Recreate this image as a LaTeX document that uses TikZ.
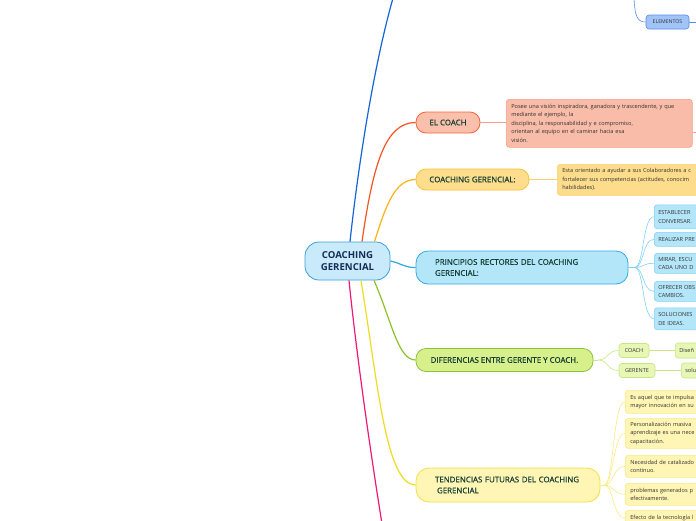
\documentclass[tikz,border=0pt]{standalone}
\usepackage{fontspec}
\setmainfont{Open Sans}
\newfontfamily\semib[FakeBold=0.6]{Open Sans}
\definecolor{tcol}{RGB}{22,62,52}
\definecolor{ctext}{RGB}{20,45,85}
\definecolor{sgray}{RGB}{50,50,50}
\definecolor{lblue}{RGB}{20,100,215}
\definecolor{lred}{RGB}{245,85,35}
\definecolor{lorange}{RGB}{250,180,20}
\definecolor{lsky}{RGB}{45,170,225}
\definecolor{lgreen}{RGB}{140,195,40}
\definecolor{lyellow}{RGB}{240,220,30}
\definecolor{lpink}{RGB}{240,25,120}
\definecolor{cfill}{RGB}{200,234,250}
\definecolor{cdraw}{RGB}{60,160,220}
\definecolor{rfill}{RGB}{250,192,172}
\definecolor{rdraw}{RGB}{245,100,60}
\definecolor{rdfill}{RGB}{248,188,168}
\definecolor{rddraw}{RGB}{242,160,140}
\definecolor{ofill}{RGB}{254,222,140}
\definecolor{odraw}{RGB}{250,195,60}
\definecolor{odfill}{RGB}{253,220,140}
\definecolor{oddraw}{RGB}{252,208,110}
\definecolor{sfill}{RGB}{180,230,250}
\definecolor{sdraw}{RGB}{50,170,225}
\definecolor{scdraw}{RGB}{130,210,245}
\definecolor{gfill}{RGB}{215,240,140}
\definecolor{gdraw}{RGB}{140,195,60}
\definecolor{gcfill}{RGB}{232,247,182}
\definecolor{gcdraw}{RGB}{200,230,130}
\definecolor{yfill}{RGB}{255,245,180}
\definecolor{ydraw}{RGB}{240,225,70}
\definecolor{ycdraw}{RGB}{250,235,130}
\definecolor{efill}{RGB}{160,196,248}
\definecolor{edraw}{RGB}{90,140,230}
\begin{document}
\begin{tikzpicture}[x=1pt,y=-1pt,
  every node/.style={font=\semib\fontsize{7.9}{11}\selectfont, text=tcol, inner sep=0pt},
  pill/.style={draw, line width=0.8pt, rounded corners=10pt},
  small/.style={draw, line width=0.6pt, rounded corners=3pt, font=\fontsize{5.6}{8.5}\selectfont, text=sgray, align=left, inner xsep=4pt, inner ysep=2pt, anchor=north west},
  mainline/.style={line width=1.2pt},
  thin/.style={line width=0.6pt}]
\path[use as bounding box] (0,0) rectangle (696,520);
\clip (0,0) rectangle (696,520);
\fill[white] (0,0) rectangle (696,520);

% central node
\node[pill, rounded corners=14pt, fill=cfill, draw=cdraw, minimum width=85pt, minimum height=38pt,
  font=\bfseries\fontsize{9.6}{12}\selectfont, text=ctext, align=center] (c) at (347.5,261) {COACHING\\GERENCIAL};

% main branch nodes
\node[pill, fill=rfill, draw=rdraw, minimum width=64pt, minimum height=21pt] (coach) at (448,122.5) {EL COACH};
\node[pill, fill=ofill, draw=odraw, minimum width=113pt, minimum height=21pt] (cg) at (472.5,179.5) {COACHING GERENCIAL:};
\node[pill, rounded corners=12pt, fill=sfill, draw=sdraw, minimum width=212pt, minimum height=33pt,
  text width=174pt, inner xsep=19pt, align=left] (pr) at (522,267.5) {PRINCIPIOS RECTORES DEL COACHING\\GERENCIAL:};
\node[pill, fill=gfill, draw=gdraw, minimum width=177pt, minimum height=23pt] (dif) at (504.5,360) {DIFERENCIAS ENTRE GERENTE Y COACH.};
\node[pill, rounded corners=13pt, fill=yfill, draw=ydraw, minimum width=184pt, minimum height=34pt,
  text width=146pt, inner xsep=19pt, align=left] (ten) at (508,485) {TENDENCIAS FUTURAS DEL COACHING\\\hspace*{2pt}GERENCIAL};

% ELEMENTOS
\node[draw=edraw, fill=efill, line width=0.6pt, rounded corners=3pt, minimum width=43pt, minimum height=14pt,
  font=\fontsize{5.2}{6}\selectfont, text=sgray] (el) at (667.5,22) {ELEMENTOS};

% descriptions
\node[small, fill=rdfill, draw=rddraw, text width=176pt, minimum height=48pt, inner xsep=5pt] (cd) at (506,99)
 {Posee una visión inspiradora, ganadora y trascendente, y que\\mediante el ejemplo, la\\disciplina, la responsabilidad y e compromiso,\\orientan al equipo en el caminar hacia esa\\visión.};
\node[small, fill=odfill, draw=oddraw, text width=170pt, minimum height=31pt, inner xsep=5pt] (cgd) at (557,164)
 {Esta orientado a ayudar a sus Colaboradores a c\\fortalecer sus competencias (actitudes, conocim\\habilidades).};

% principios children
\node[small, fill=sfill, draw=scdraw, text width=60pt, minimum height=24pt] (p1) at (654,204.5) {ESTABLECER\\CONVERSAR.};
\node[small, fill=sfill, draw=scdraw, text width=60pt, minimum height=14pt] (p2) at (654,232) {REALIZAR PRE};
\node[small, fill=sfill, draw=scdraw, text width=60pt, minimum height=20pt] (p3) at (654,253) {MIRAR, ESCU\\CADA UNO D};
\node[small, fill=sfill, draw=scdraw, text width=60pt, minimum height=20pt] (p4) at (654,281) {OFRECER OBS\\CAMBIOS.};
\node[small, fill=sfill, draw=scdraw, text width=60pt, minimum height=22pt] (p5) at (654,307.5) {SOLUCIONES\\DE IDEAS.};

% diferencias children
\node[draw=gcdraw, fill=gcfill, line width=0.6pt, rounded corners=3pt, minimum width=30pt, minimum height=14pt,
  font=\fontsize{5.5}{6}\selectfont, text=sgray] (dc) at (634,350.5) {COACH};
\node[draw=gcdraw, fill=gcfill, line width=0.6pt, rounded corners=3pt, minimum width=36pt, minimum height=14pt,
  font=\fontsize{5.5}{6}\selectfont, text=sgray] (dg) at (637,370.5) {GERENTE};
\node[small, anchor=west, fill=gcfill, draw=gcdraw, text width=40pt, minimum height=15pt] (dc2) at (675,350.5) {Diseñ};
\node[small, anchor=west, fill=gcfill, draw=gcdraw, text width=40pt, minimum height=15pt] (dg2) at (681,370.5) {solu};

% tendencias children
\node[small, fill=yfill, draw=ycdraw, text width=90pt, minimum height=23pt, inner xsep=5pt] (t1) at (625,390) {Es aquel que te impulsa\\mayor innovación en su};
\node[small, fill=yfill, draw=ycdraw, text width=90pt, minimum height=30pt, inner xsep=5pt] (t2) at (625,418) {Personalización masiva\\aprendizaje es una nece\\capacitación.};
\node[small, fill=yfill, draw=ycdraw, text width=90pt, minimum height=22pt, inner xsep=5pt] (t3) at (625,455) {Necesidad de catalizado\\continuo.};
\node[small, fill=yfill, draw=ycdraw, text width=90pt, minimum height=22pt, inner xsep=5pt] (t4) at (625,483) {problemas generados p\\efectivamente.};
\node[small, fill=yfill, draw=ycdraw, text width=90pt, minimum height=16pt, inner xsep=5pt] (t5) at (625,510) {Efecto de la tecnología l};

% free ends
\coordinate (topend) at (396,-12);
\coordinate (pinkend) at (383,530);
\coordinate (eltop) at (634,-8);
\coordinate (elright) at (700,22);
\coordinate (cdright) at (700,132);

% main connectors
\draw[mainline, lblue] ([xshift=2.5pt]c.north) .. controls (360,150) and (377,50) .. (topend);
\draw[mainline, lred] ([xshift=14.5pt]c.north) .. controls (373,165) and (385,122.5) .. (coach.west);
\draw[mainline, lorange] ([xshift=27pt]c.north) .. controls (386,205) and (395,179.5) .. (cg.west);
\draw[mainline, lsky] (c.east) .. controls (403,264) and (404,267.5) .. (pr.west);
\draw[mainline, lgreen] ([xshift=26.5pt]c.south) .. controls (392,322) and (398,360) .. (dif.west);
\draw[mainline, lyellow] ([xshift=13.5pt]c.south) .. controls (378,385) and (386,485) .. (ten.west);
\draw[mainline, lpink] ([xshift=1.5pt]c.south) .. controls (356,350) and (370,450) .. (pinkend);

% secondary connectors
\draw[thin, edraw] (eltop) .. controls (634,18) and (638,22) .. (el.west);
\draw[thin, edraw] (el.east) -- (elright);
\draw[thin, rddraw] (coach.east) -- (cd.west |- coach.east);
\draw[thin, rddraw] (cd.east |- cdright) -- (cdright);
\draw[thin, oddraw] (cg.east) -- (cgd.west |- cg.east);

\coordinate (pb) at ([xshift=6pt]pr.east);
\draw[thin, scdraw] (pr.east) -- (pb);
\foreach \n in {p1,p2,p3,p4,p5}
  \draw[thin, scdraw] (pb) .. controls +(10,0) and +(-12,0) .. (\n.west);

\coordinate (db) at ([xshift=5pt]dif.east);
\draw[thin, gcdraw] (dif.east) -- (db);
\foreach \n in {dc,dg}
  \draw[thin, gcdraw] (db) .. controls +(10,0) and +(-12,0) .. (\n.west);
\draw[thin, gcdraw] (dc.east) -- (dc2.west);
\draw[thin, gcdraw] (dg.east) -- (dg2.west);

\coordinate (tb) at ([xshift=4pt]ten.east);
\draw[thin, ycdraw] (ten.east) -- (tb);
\foreach \n in {t1,t2,t3,t4,t5}
  \draw[thin, ycdraw] (tb) .. controls +(9,0) and +(-12,0) .. (\n.west);
\end{tikzpicture}
\end{document}
